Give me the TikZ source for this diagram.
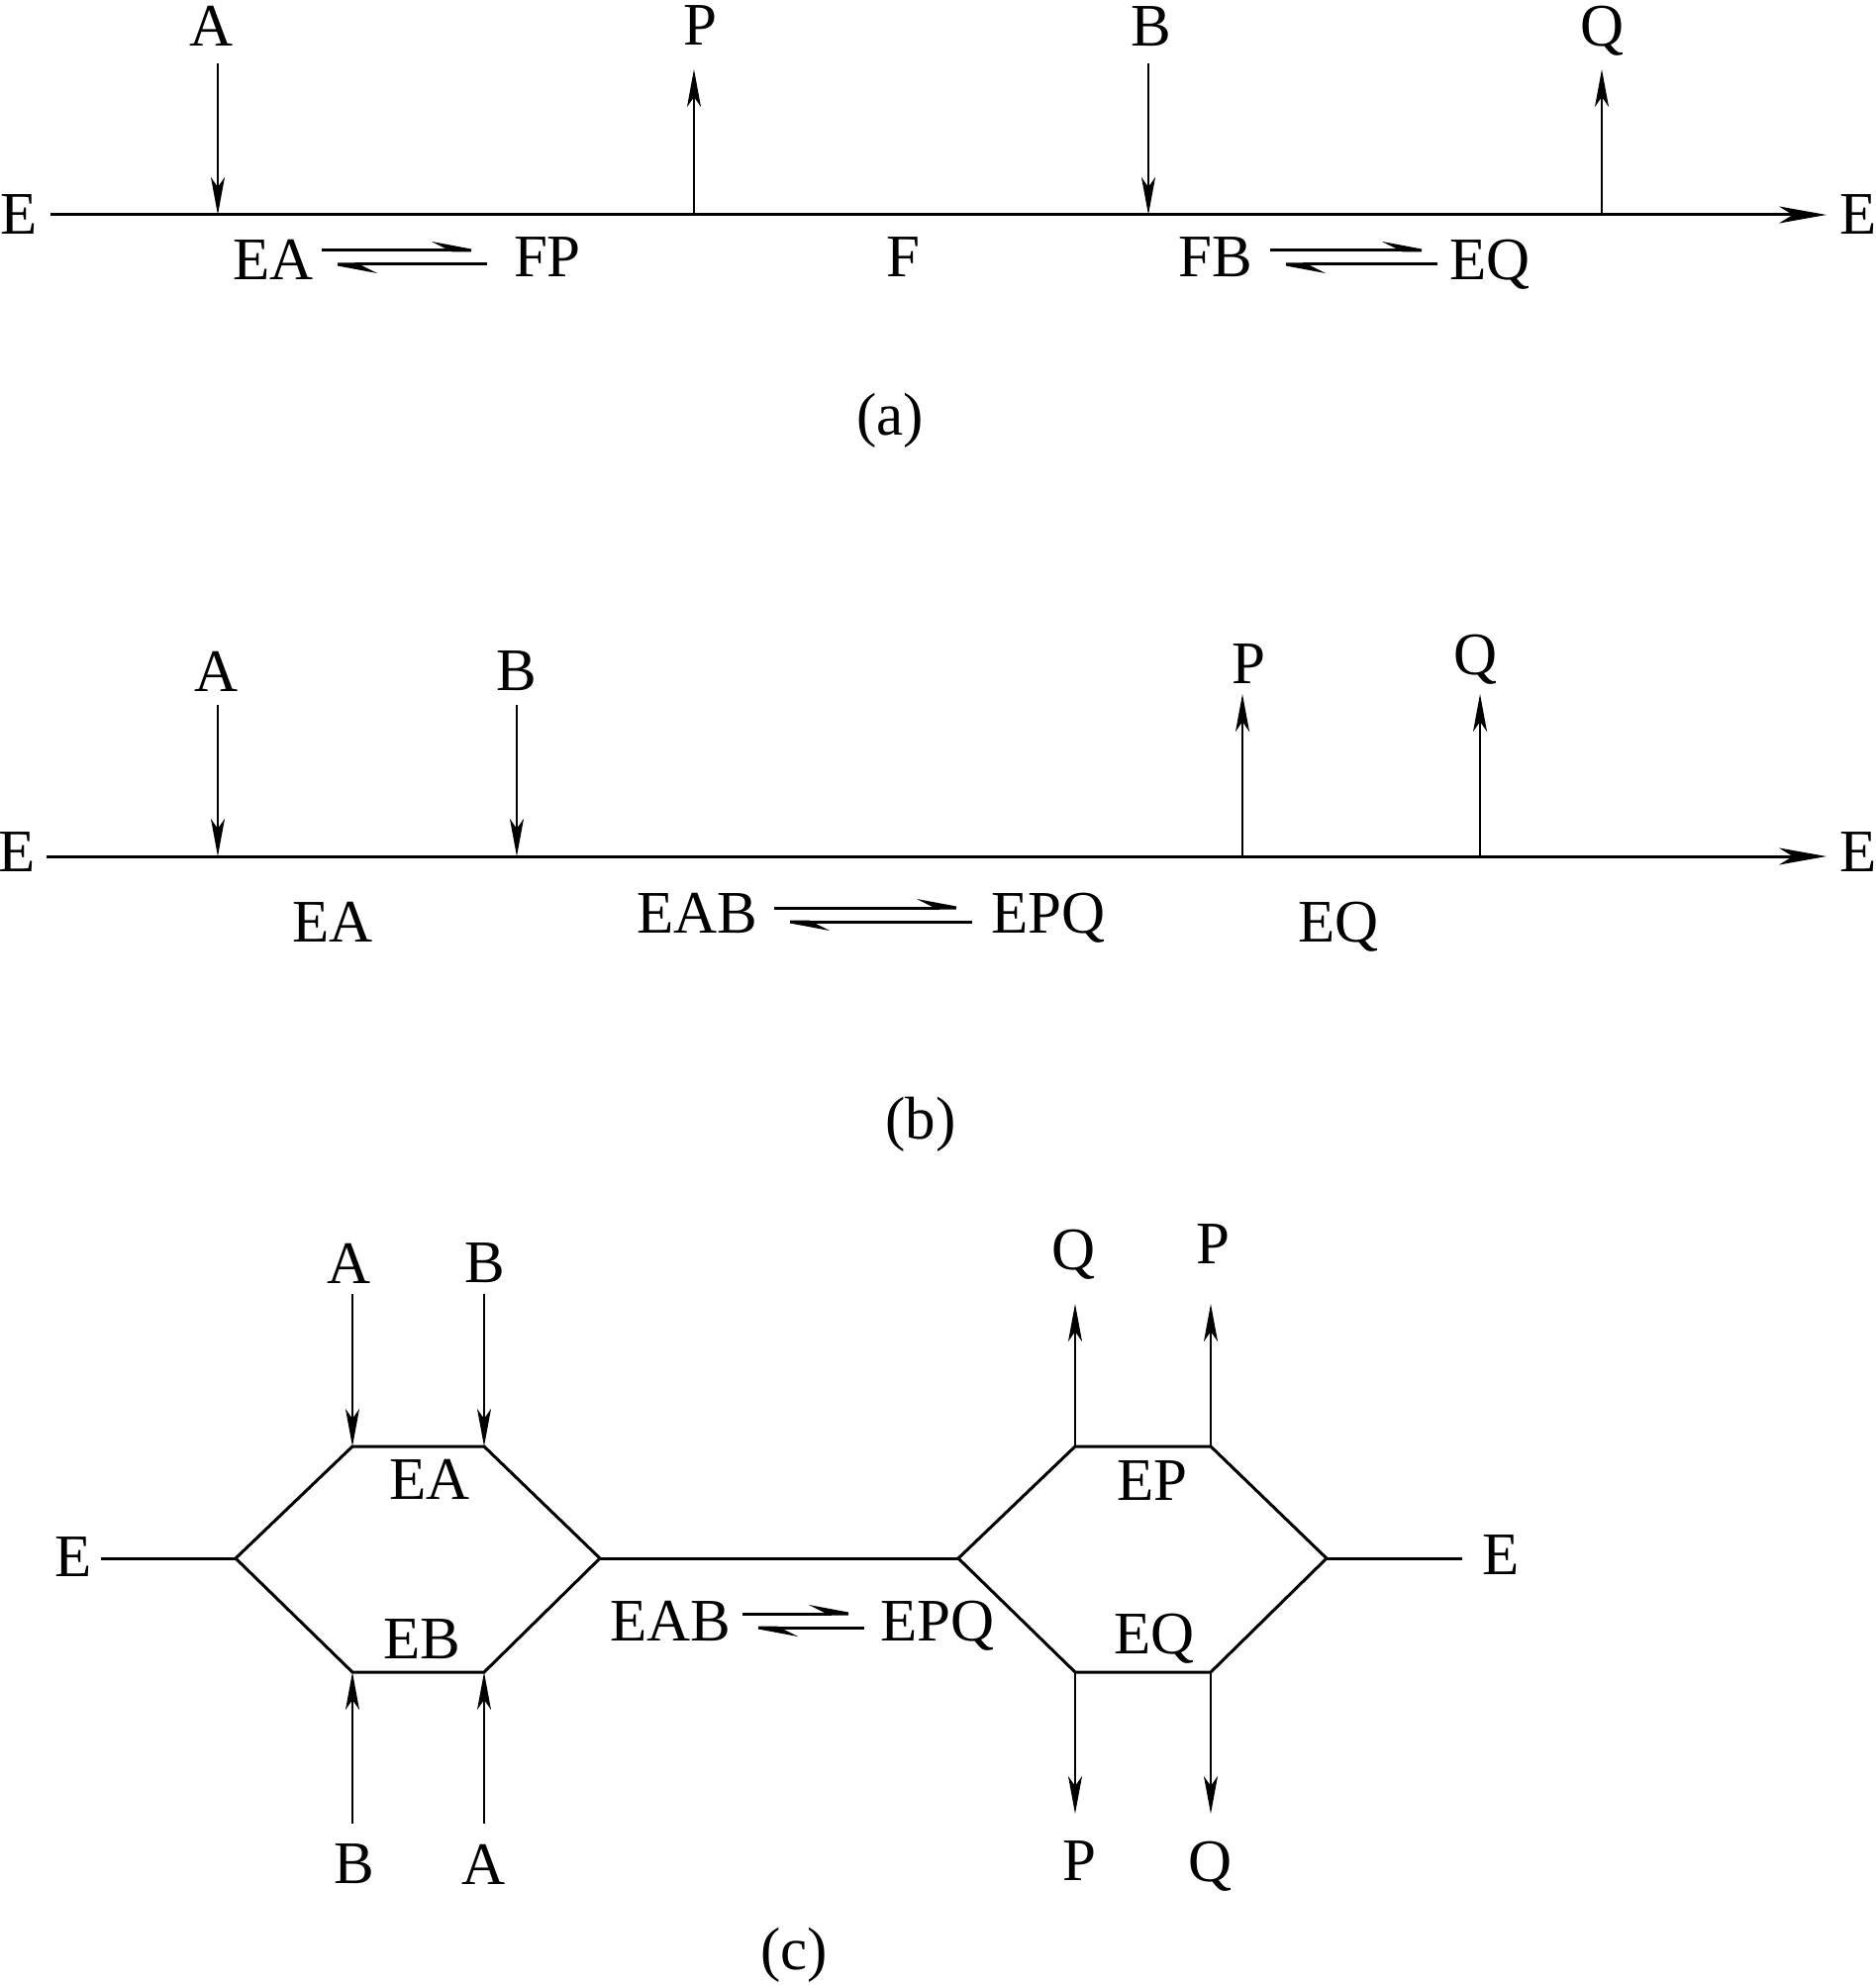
\documentclass[tikz,border=0pt]{standalone}
\usepackage{fontspec}
\setmainfont{Liberation Serif}
\usetikzlibrary{arrows.meta}
\tikzstyle{lbl}=[inner sep=0pt, text depth=0pt, font=\fontsize{30.5}{36}\selectfont]
\tikzstyle{axis}=[line width=1.5pt, draw=black]
\tikzstyle{flow}=[line width=1.1pt, -{Stealth[length=19pt,width=7pt,inset=5pt]}]
\tikzstyle{harp}=[line width=1.5pt, -{Stealth[harpoon,length=24pt,width=9pt,inset=9pt]}]
\tikzstyle{tail}=[-{Stealth[length=24pt,width=8.5pt,inset=7pt]}]
% two harpoons between x1 and x2, upper line at y
\newcommand{\eqharp}[3]{%
  \draw[harp] (#1,#3) -- (#2,#3);
  \draw[harp] (#2,#3+14) -- (#1,#3+14);}

\begin{document}
\begin{tikzpicture}[x=0.5pt,y=-0.5pt]
\useasboundingbox (0,0) rectangle (1894,2005);

% (a)
\begin{scope}[every node/.style={lbl}]
  \node (Ea1) at (19,217) {E};
  \node (Ea2) at (1877,217) {E};
  \node (Aa) at (214,26) {A};
  \node (Pa) at (707,26) {P};
  \node (Ba) at (1163,27) {B};
  \node (Qa) at (1618,26) {Q};
  \node (EAa) at (276,262) {EA};
  \node (FPa) at (553,260) {FP};
  \node (Fa) at (912,260) {F};
  \node (FBa) at (1228,260) {FB};
  \node (EQa) at (1505,262) {EQ};
  \node (capa) at (899,418) {(a)};
\end{scope}
\coordinate (sa) at (51,217);
\coordinate (ta) at (1845,217);
\draw[axis,tail] (sa) -- (ta);
\foreach \x/\n in {220/1,701/2,1160/3,1618/4} {
  \coordinate (a\n) at (\x,217);
  \coordinate (a\n t) at (\x,64);
  \coordinate (a\n h) at (\x,70);
}
\draw[flow] (a1t) -- (a1);
\draw[flow] (a2) -- (a2h);
\draw[flow] (a3t) -- (a3);
\draw[flow] (a4) -- (a4h);
\eqharp{325}{492}{253}
\eqharp{1283}{1452}{253}

% (b)
\begin{scope}[every node/.style={lbl}]
  \node (Eb1) at (17,861) {E};
  \node (Eb2) at (1877,861) {E};
  \node (Ab) at (219,678) {A};
  \node (Bb) at (522,678) {B};
  \node (Pb) at (1261,671) {P};
  \node (Qb) at (1491,661) {Q};
  \node (EAb) at (336,931) {EA};
  \node (EABb) at (704,922) {EAB};
  \node (EPQb) at (1059,922) {EPQ};
  \node (EQb) at (1352,931) {EQ};
  \node (capb) at (930,1129) {(b)};
\end{scope}
\coordinate (sb) at (47,865);
\coordinate (tb) at (1845,865);
\draw[axis,tail] (sb) -- (tb);
\foreach \x/\n in {220/1,522/2,1255/3,1495/4} {
  \coordinate (b\n) at (\x,865);
  \coordinate (b\n t) at (\x,712);
  \coordinate (b\n h) at (\x,701);
}
\draw[flow] (b1t) -- (b1);
\draw[flow] (b2t) -- (b2);
\draw[flow] (b3) -- (b3h);
\draw[flow] (b4) -- (b4h);
\eqharp{782}{982}{917}

% (c)
\begin{scope}[every node/.style={lbl}]
  \node (Ec1) at (74,1573) {E};
  \node (Ec2) at (1516,1571) {E};
  \node (Ac1) at (353,1276) {A};
  \node (Bc1) at (490,1276) {B};
  \node (Bc2) at (358,1883) {B};
  \node (Ac2) at (489,1883) {A};
  \node (Qc1) at (1085,1262) {Q};
  \node (Pc1) at (1225,1257) {P};
  \node (Pc2) at (1090,1880) {P};
  \node (Qc2) at (1223,1880) {Q};
  \node (EAc) at (434,1494) {EA};
  \node (EBc) at (426,1656) {EB};
  \node (EPc) at (1164,1496) {EP};
  \node (EQc) at (1166,1650) {EQ};
  \node (EABc) at (677,1637) {EAB};
  \node (EPQc) at (947,1637) {EPQ};
  \node (capc) at (802,1968) {(c)};
\end{scope}
% left hexagon
\coordinate (L0) at (238,1574);
\coordinate (L1) at (356,1461);
\coordinate (L2) at (489,1461);
\coordinate (L3) at (606,1574);
\coordinate (L4) at (489,1689);
\coordinate (L5) at (356,1689);
% right hexagon
\coordinate (R0) at (968,1574);
\coordinate (R1) at (1086,1461);
\coordinate (R2) at (1223,1461);
\coordinate (R3) at (1340,1574);
\coordinate (R4) at (1223,1689);
\coordinate (R5) at (1086,1689);
\coordinate (cs) at (102,1574);
\coordinate (ce) at (1477,1574);
\draw[axis] (L0) -- (L1) -- (L2) -- (L3) -- (L4) -- (L5) -- cycle;
\draw[axis] (R0) -- (R1) -- (R2) -- (R3) -- (R4) -- (R5) -- cycle;
\draw[axis] (cs) -- (L0);
\draw[axis] (L3) -- (R0);
\draw[axis] (R3) -- (ce);
\draw[flow] (356,1307) -- (L1);
\draw[flow] (489,1307) -- (L2);
\draw[flow] (356,1842) -- (L5);
\draw[flow] (489,1842) -- (L4);
\draw[flow] (R1) -- (1086,1317);
\draw[flow] (R2) -- (1223,1317);
\draw[flow] (R5) -- (1086,1832);
\draw[flow] (R4) -- (1223,1832);
\eqharp{750}{873}{1630}
\end{tikzpicture}
\end{document}
